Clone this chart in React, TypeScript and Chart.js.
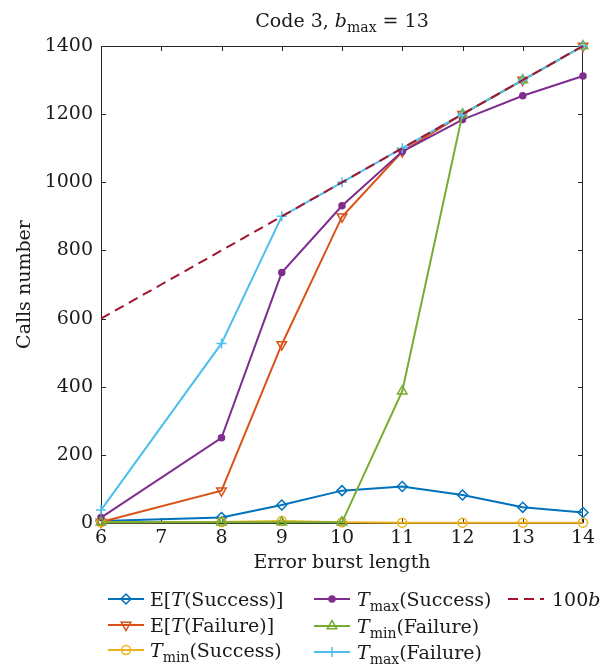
import React, { useEffect, useRef } from "react";
import { Chart, registerables } from "chart.js";
import { drawPoint } from "chart.js/helpers";

Chart.register(...registerables);

// ---- data ----
const burstLengths = [6, 8, 9, 10, 11, 12, 13, 14];
const expSuccess = [6, 16, 53, 95, 107, 82, 46, 31];
const expFailure = [3, 95, 524, 899, 1090, 1200, 1300, 1400];
const minSuccess = [2, 3, 6, 2, 1, 1, 1, 1];
const maxSuccess = [16, 250, 735, 931, 1090, 1184, 1254, 1312];
const minFailure = [2, 2, 2, 2, 387, 1200, 1300, 1400];
const maxFailure = [38, 527, 900, 1000, 1100, 1200, 1300, 1400];
const refX = [6, 7, 8, 9, 10, 11, 12, 13, 14];
const refLine = [600, 700, 800, 900, 1000, 1100, 1200, 1300, 1400];

const xTicks = [6, 7, 8, 9, 10, 11, 12, 13, 14];
const yTicks = [0, 200, 400, 600, 800, 1000, 1200, 1400];

const titleText = [{ t: "Code 3, " }, { t: "b", i: true }, { t: "max", s: true }, { t: " = 13" }];
const xLabel = "Error burst length";
const yLabel = "Calls number";

type Part = { t: string; i?: boolean; s?: boolean };
const legendLabels: Part[][] = [
  [{ t: "E[" }, { t: "T", i: true }, { t: "(Success)]" }],
  [{ t: "E[" }, { t: "T", i: true }, { t: "(Failure)]" }],
  [{ t: "T", i: true }, { t: "min", s: true }, { t: "(Success)" }],
  [{ t: "T", i: true }, { t: "max", s: true }, { t: "(Success)" }],
  [{ t: "T", i: true }, { t: "min", s: true }, { t: "(Failure)" }],
  [{ t: "T", i: true }, { t: "max", s: true }, { t: "(Failure)" }],
  [{ t: "100" }, { t: "b", i: true }],
];

const FAM = '"DejaVu Serif", serif';
const TXT = "#1a1a1a";

const seriesStyle = [
  { color: "#0072BD", style: "rectRot", rot: 0, r: 5, fill: false },
  { color: "#D95319", style: "triangle", rot: 180, r: 5.5, fill: false },
  { color: "#EDB120", style: "circle", rot: 0, r: 4.5, fill: false },
  { color: "#7E2F8E", style: "circle", rot: 0, r: 3, fill: true },
  { color: "#77AC30", style: "triangle", rot: 0, r: 5.5, fill: false },
  { color: "#4DBEEE", style: "cross", rot: 0, r: 5, fill: false },
  { color: "#A2142F", style: false as any, rot: 0, r: 0, fill: false, dash: [10, 6] },
];

function drawRich(ctx: CanvasRenderingContext2D, parts: Part[], x: number, y: number, size: number, align: "left" | "center") {
  const sub = Math.round(size * 0.72);
  const fontOf = (p: Part) => `${p.i ? "italic " : ""}${p.s ? sub : size}px ${FAM}`;
  let total = 0;
  const widths = parts.map((p) => {
    ctx.font = fontOf(p);
    const w = ctx.measureText(p.t).width;
    total += w;
    return w;
  });
  let cx = align === "center" ? x - total / 2 : x;
  ctx.textAlign = "left";
  ctx.textBaseline = "alphabetic";
  parts.forEach((p, k) => {
    ctx.font = fontOf(p);
    ctx.fillText(p.t, cx, p.s ? y + size * 0.28 : y);
    cx += widths[k];
  });
}

const decor = {
  id: "decor",
  beforeDatasetsDraw(chart: any) {
    const { ctx, chartArea: a, scales } = chart;
    ctx.save();
    ctx.strokeStyle = "#262626";
    ctx.lineWidth = 1;
    ctx.strokeRect(a.left + 0.5, a.top + 0.5, a.right - a.left - 1, a.bottom - a.top);
    ctx.beginPath();
    xTicks.forEach((v) => {
      const px = Math.round(scales.x.getPixelForValue(v)) + 0.5;
      ctx.moveTo(px, a.bottom);
      ctx.lineTo(px, a.bottom - 5);
      ctx.moveTo(px, a.top);
      ctx.lineTo(px, a.top + 5);
    });
    yTicks.forEach((v) => {
      const py = Math.round(scales.y.getPixelForValue(v)) + 0.5;
      ctx.moveTo(a.left, py);
      ctx.lineTo(a.left + 5, py);
      ctx.moveTo(a.right, py);
      ctx.lineTo(a.right - 5, py);
    });
    ctx.stroke();
    ctx.restore();
  },
  afterDraw(chart: any) {
    const { ctx, chartArea: a } = chart;
    ctx.save();
    ctx.fillStyle = TXT;
    // title
    drawRich(ctx, titleText, (a.left + a.right) / 2, 27, 19, "center");
    // x label
    ctx.font = `19px ${FAM}`;
    ctx.textAlign = "center";
    ctx.textBaseline = "middle";
    ctx.fillText(xLabel, (a.left + a.right) / 2, 563);
    // y label
    ctx.save();
    ctx.translate(25, (a.top + a.bottom) / 2);
    ctx.rotate(-Math.PI / 2);
    ctx.fillText(yLabel, 0, 0);
    ctx.restore();
    // legend
    const cols = [
      { lx: 108, tx: 150 },
      { lx: 314, tx: 357 },
      { lx: 508, tx: 552 },
    ];
    const pos = [
      [0, 599],
      [0, 625],
      [0, 650],
      [1, 599],
      [1, 626],
      [1, 652],
      [2, 599],
    ];
    seriesStyle.forEach((st: any, k) => {
      const [c, y] = pos[k];
      const col = cols[c];
      ctx.save();
      ctx.strokeStyle = st.color;
      ctx.lineWidth = 2;
      if (st.dash) ctx.setLineDash(st.dash);
      ctx.beginPath();
      ctx.moveTo(col.lx, y);
      ctx.lineTo(col.lx + 36, y);
      ctx.stroke();
      ctx.setLineDash([]);
      if (st.style) {
        ctx.fillStyle = st.fill ? st.color : "rgba(0,0,0,0)";
        ctx.lineWidth = 1.5;
        drawPoint(ctx, { pointStyle: st.style, rotation: st.rot, radius: st.r, borderWidth: 1.5 } as any, col.lx + 18, y);
      }
      ctx.restore();
      ctx.fillStyle = TXT;
      drawRich(ctx, legendLabels[k], col.tx, y + 7, 19, "left");
    });
    ctx.restore();
  },
};

export default function App() {
  const ref = useRef<HTMLCanvasElement>(null);
  useEffect(() => {
    const sets = [expSuccess, expFailure, minSuccess, maxSuccess, minFailure, maxFailure];
    const datasets: any[] = sets.map((arr, k) => {
      const st: any = seriesStyle[k];
      return {
        data: burstLengths.map((x, i) => ({ x, y: arr[i] })),
        borderColor: st.color,
        backgroundColor: st.color,
        borderWidth: 2,
        pointStyle: st.style,
        rotation: st.rot,
        pointRadius: st.r,
        pointBorderWidth: 1.5,
        pointBackgroundColor: st.fill ? st.color : "rgba(0,0,0,0)",
        pointBorderColor: st.color,
        tension: 0,
        clip: false,
        order: 10 - k,
      };
    });
    datasets.push({
      data: refX.map((x, i) => ({ x, y: refLine[i] })),
      borderColor: seriesStyle[6].color,
      borderWidth: 2,
      borderDash: [10, 6],
      pointRadius: 0,
      tension: 0,
      clip: false,
      order: 1,
    });
    const tickFont = { family: FAM, size: 19 };
    const chart = new Chart(ref.current!, {
      type: "line",
      data: { datasets },
      plugins: [decor],
      options: {
        responsive: false,
        animation: false,
        layout: { padding: { left: 0, top: 46, right: 26, bottom: 83 } },
        plugins: { legend: { display: false }, tooltip: { enabled: false }, title: { display: false } },
        scales: {
          x: {
            type: "linear",
            min: 6,
            max: 14,
            afterFit: (s: any) => {
              s.height = 60;
            },
            ticks: { stepSize: 1, font: tickFont, color: TXT, padding: 4, maxRotation: 0, callback: (v: any) => String(v) },
            grid: { display: false, drawTicks: false },
            border: { display: false },
          },
          y: {
            type: "linear",
            min: 0,
            max: 1400,
            afterFit: (s: any) => {
              s.width = 101;
            },
            ticks: { stepSize: 200, font: tickFont, color: TXT, padding: 8, callback: (v: any) => String(v) },
            grid: { display: false, drawTicks: false },
            border: { display: false },
          },
        },
      } as any,
    });
    return () => chart.destroy();
  }, []);
  return (
    <canvas
      ref={ref}
      width={609}
      height={666}
      style={{ position: "fixed", left: 0, top: 0, width: 609, height: 666, background: "#fff" }}
    />
  );
}
